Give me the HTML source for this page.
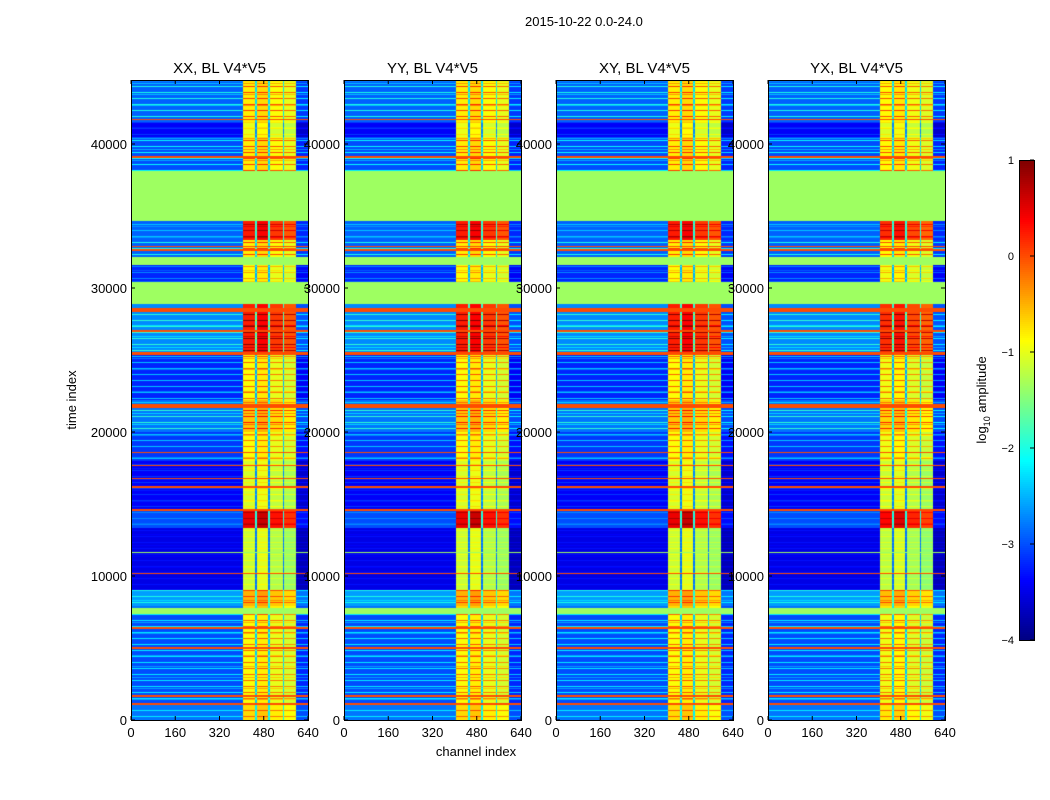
<!DOCTYPE html>
<html><head><meta charset="utf-8">
<style>
body{margin:0;background:#fff;width:1050px;height:800px;overflow:hidden;font-family:"Liberation Sans",sans-serif;}
#root{position:relative;width:1050px;height:800px;}
.t{position:absolute;font-size:13px;color:#000;white-space:nowrap}
canvas{position:absolute;}
</style></head>
<body>
<div id="root">
<div class="t" style="left:525px;top:14px;font-size:13px">2015-10-22 0.0-24.0</div>
<svg id="axes" width="1050" height="800" style="position:absolute;left:0;top:0"></svg>
</div>
<script>
// ---- data ----
const panelTitles = ["XX, BL V4*V5","YY, BL V4*V5","XY, BL V4*V5","YX, BL V4*V5"];
const panelRfiScale = [1.0, 1.0, 1.0, 0.97];
const xTicks = [0,160,320,480,640];
const yTicks = [0,10000,20000,30000,40000];
const cbTicks = [1,0,-1,-2,-3,-4];
// channel segments
const chanStart = [0,405,450,456,497,503,548,553,598];
const chanEnd   = [405,450,456,497,503,548,553,598,640];
const chanBoost = [0,2.1,0.6,2.2,0.6,2.0,0.6,1.9,-0.2];
// time segments
const segT0   = [0,1040,7900,9000,13300,14580,18000,20000,22200,25550,28900,30400,31600,32150,33300,34650,38125,40500,41500];
const segT1   = [1040,7430,9000,13300,14580,18000,20000,22200,25350,28900,30400,31600,32150,33300,34650,38125,40500,41500,44444];
const segBase = [-2.8,-3.0,-2.6,-3.5,-3.0,-3.4,-3.1,-2.8,-3.2,-2.7,-1.35,-3.2,-1.35,-2.9,-2.9,-1.35,-3.0,-3.4,-2.9];
const segRfi  = [1.0,1.0,1.0,1.12,1.65,1.1,1.05,1.05,1.1,1.4,0,1.1,0,1.0,1.5,0,1.05,1.15,1.0];
const segStripe=[0.6,0.8,0.6,0.2,0.3,0.3,0.7,0.9,0.8,0.8,0,0.5,0,0.9,0.5,0,0.9,0.3,0.9];
// flagged rows
const lineT   = [1110,1670,2990,5000,6390,7450,7650,10200,11660,14580,16180,16800,17700,18600,19930,21800,25450,27000,28400,28540,32640,32900,33400,39100,41700,43190,43400];
const lineHalf= [40,40,30,60,40,110,110,30,30,40,40,30,30,30,30,110,110,60,40,40,40,30,30,50,60,30,30];
const lineVal = [0,0,0,0,0,-1.35,-1.35,0,-1.35,0,0,0,0,0,0,0,0,0,0,0,0,0,0,0,0,0,0];
const tMax = 44444;

const panelX = [131,344,556,768];
const pw = 177, py0 = 80, py1 = 720;
const xScale = (c,i)=> panelX[i] + c/640*pw;
const yScale = t => py1 - t/tMax*(py1-py0);

function jet(v){
  let x=Math.max(0,Math.min(1,(v+4)/5));
  const c=a=>Math.round(255*Math.max(0,Math.min(1,1.5-Math.abs(4*x-a))));
  return `rgb(${c(3)},${c(2)},${c(1)})`;
}
const root=document.getElementById('root');
const svg=document.getElementById('axes');
const NS='http://www.w3.org/2000/svg';
function sv(tag,attrs,parent){const e=document.createElementNS(NS,tag);for(const k in attrs)e.setAttribute(k,attrs[k]);(parent||svg).appendChild(e);return e;}
function txt(s,x,y,anchor,size,parent){const e=sv('text',{x:x,y:y,'text-anchor':anchor||'middle','font-size':size||13,'font-family':'Liberation Sans, sans-serif'},parent);e.textContent=s;return e;}

for(let i=0;i<4;i++){
  const cv=document.createElement('canvas');
  cv.width=pw;cv.height=py1-py0;
  cv.style.left=panelX[i]+'px';cv.style.top=py0+'px';
  
  
  root.insertBefore(cv,svg);
  const ctx=cv.getContext('2d');
  for(let r=0;r<py1-py0;r++){
    const t=(py1-py0-r-0.5)/(py1-py0)*tMax;
    let s=0;for(let k=0;k<segT0.length;k++){if(t>=segT0[k]&&t<segT1[k]){s=k;break;}}
    let flag=null;
    for(let k=0;k<lineT.length;k++){if(Math.abs(t-lineT[k])<=lineHalf[k]){flag=lineVal[k];break;}}
    for(let c=0;c<chanStart.length;c++){
      let v;
      if(flag!==null) v=flag;
      else if(segRfi[s]===0) v=segBase[s];
      else {
        const stripe=((r%6===0)?1:((r%11===3)?0.5:0))*segStripe[s];
        v=segBase[s]+stripe+chanBoost[c]*segRfi[s]*panelRfiScale[i];
      }
      ctx.fillStyle=jet(Math.min(1,v));
      const x0=Math.round(xScale(chanStart[c],i)-panelX[i]), x1=Math.round(xScale(chanEnd[c],i)-panelX[i]);
      ctx.fillRect(x0,r,x1-x0,1);
    }
  }
  const g=sv('g',{});
  
  
  sv('rect',{x:panelX[i]+0.5,y:py0+0.5,width:pw,height:py1-py0,fill:'none',stroke:'#000','stroke-width':1},g);
  const tt=txt(panelTitles[i],panelX[i]+pw/2,73,'middle',15,g);
  
  
  xTicks.forEach(c=>{
    const x=xScale(c,i);
    sv('line',{x1:x,x2:x,y1:py1,y2:py1-4,stroke:'#000'},g);
    sv('line',{x1:x,x2:x,y1:py0,y2:py0+4,stroke:'#000'},g);
    const l=txt(String(c),x,737,'middle',13,g);
    
    
  });
  yTicks.forEach(v=>{
    const y=yScale(v);
    sv('line',{x1:panelX[i],x2:panelX[i]+4,y1:y,y2:y,stroke:'#000'},g);
    sv('line',{x1:panelX[i]+pw,x2:panelX[i]+pw-4,y1:y,y2:y,stroke:'#000'},g);
    const l=txt(String(v),panelX[i]-4,y+5,'end',13,g);
    
    
  });
}
const xl=txt('channel index',476,756,'middle',13);


const yl=txt('time index',0,0,'middle',13);
yl.setAttribute('transform','translate(76,400) rotate(-90)');



const cbx=1019,cbw=15,cby0=160,cby1=640;
const cbg=sv('g',{});


for(let y=cby0;y<cby1;y+=2){
  const v=1-(y-cby0)/(cby1-cby0)*5;
  sv('rect',{x:cbx,y:y,width:cbw,height:2.2,fill:jet(v)},cbg);
}
sv('rect',{x:cbx+0.5,y:cby0+0.5,width:cbw,height:cby1-cby0,fill:'none',stroke:'#000'},cbg);
cbTicks.forEach(v=>{
  const y=cby0+(1-v)/5*(cby1-cby0);
  sv('line',{x1:cbx+cbw-4,x2:cbx+cbw,y1:y,y2:y,stroke:'#000'},cbg);
  const l=txt(v<0?'\u2212'+(-v):String(v),cbx-5,y+4,'end',11,cbg);
  
  
});
const cl=sv('text',{transform:'translate(986,400) rotate(-90)','text-anchor':'middle','font-size':13,'font-family':'Liberation Sans, sans-serif'});
cl.innerHTML='log<tspan font-size="9" dy="4">10</tspan><tspan dy="-4"> amplitude</tspan>';


</script>
</body></html>
